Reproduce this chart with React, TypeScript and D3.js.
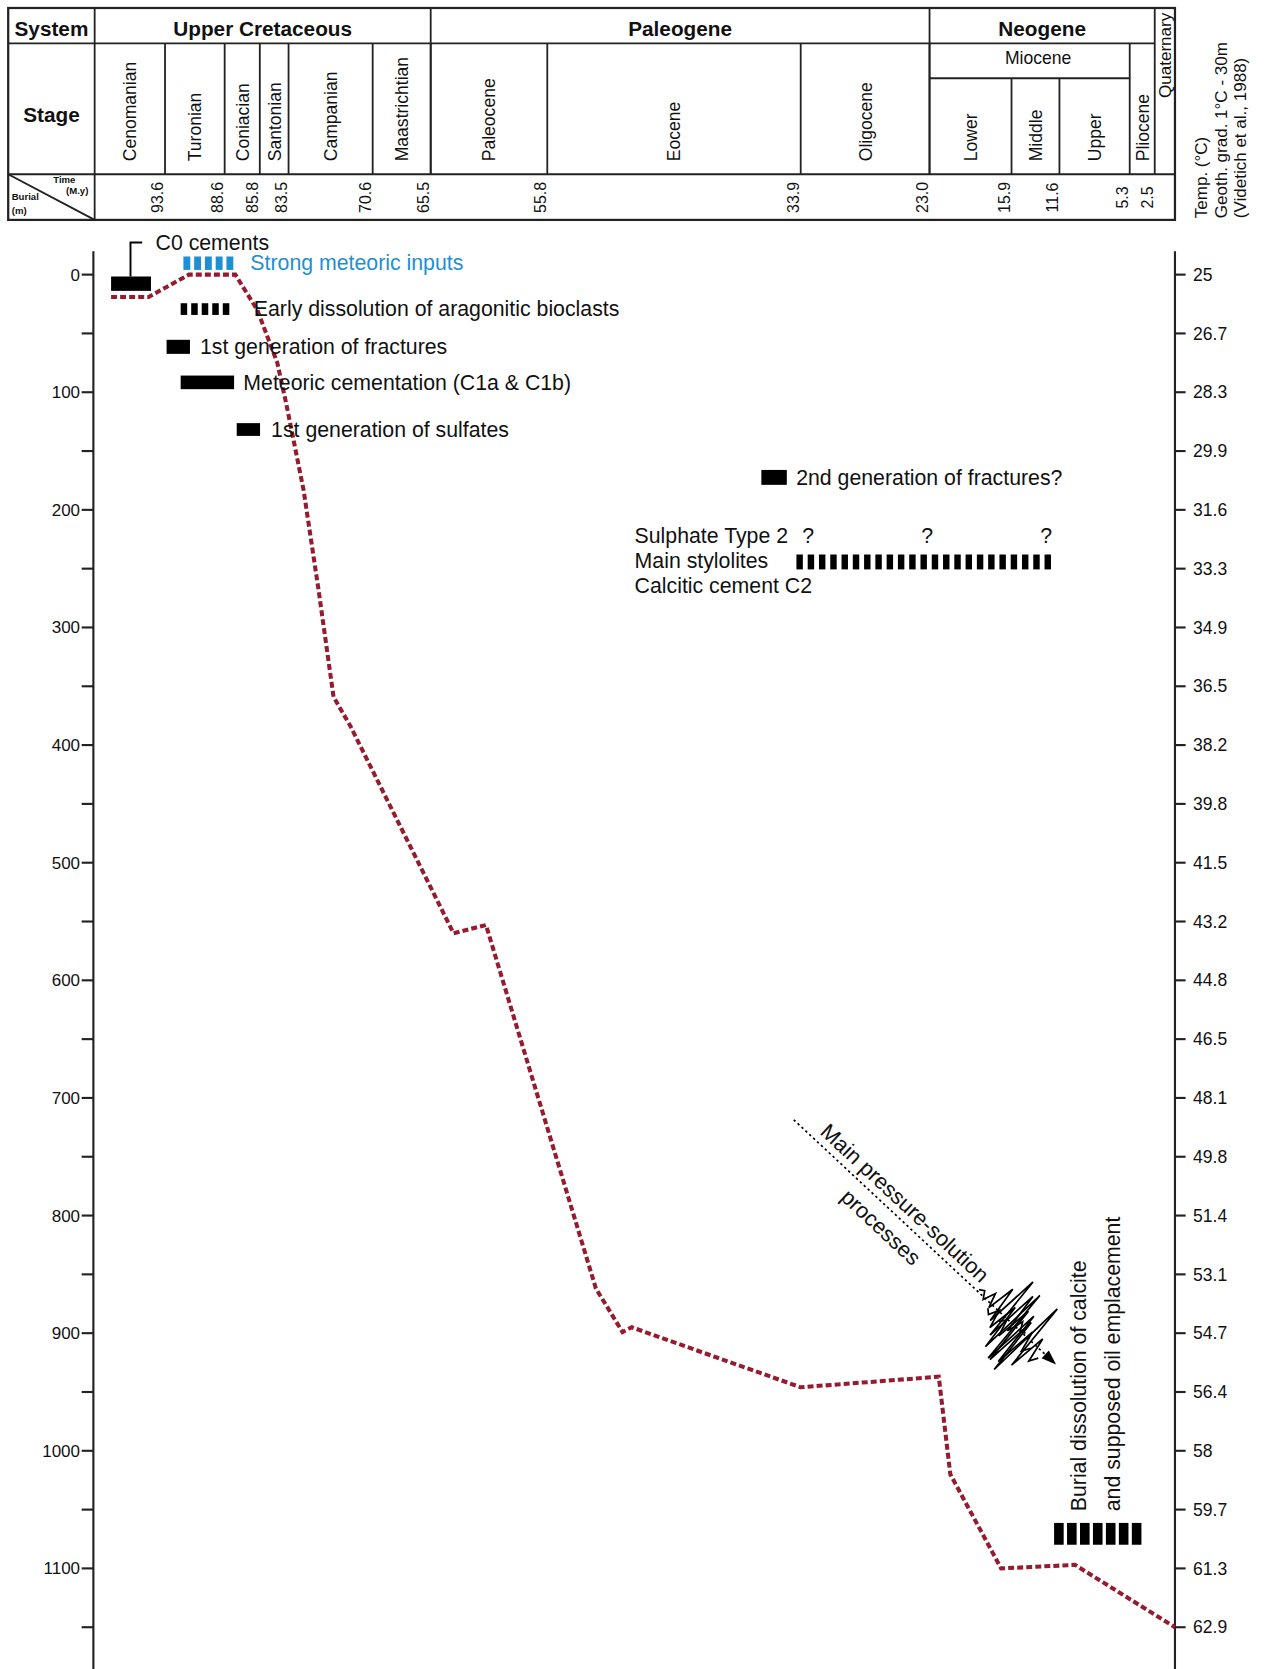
import React from "react";
import * as d3 from "d3";

const VB_W = 1189;
const VB_H = 1568;
const FONT = "'Liberation Sans', Arial, Helvetica, sans-serif";

// ---------------- data ----------------
const boundaryAges = [99.6, 93.6, 88.6, 85.8, 83.5, 70.6, 65.5, 55.8, 33.9, 23.0, 15.9, 11.6, 5.3, 2.5, 0];
const systemNames = ["Upper Cretaceous", "Paleogene", "Neogene"];
const systemFrom = [99.6, 65.5, 23.0];
const systemTo = [65.5, 23.0, 2.5];
const quaternaryName = "Quaternary";
const quaternaryRange = [2.5, 0];
const stageNames = ["Cenomanian", "Turonian", "Coniacian", "Santonian", "Campanian", "Maastrichtian", "Paleocene", "Eocene", "Oligocene", "Pliocene"];
const stageFrom = [99.6, 93.6, 88.6, 85.8, 83.5, 70.6, 65.5, 55.8, 33.9, 5.3];
const stageTo = [93.6, 88.6, 85.8, 83.5, 70.6, 65.5, 55.8, 33.9, 23.0, 2.5];
const mioceneName = "Miocene";
const mioceneRange = [23.0, 5.3];
const mioceneSubNames = ["Lower", "Middle", "Upper"];
const mioceneSubFrom = [23.0, 15.9, 11.6];
const mioceneSubTo = [15.9, 11.6, 5.3];
const timeTickAges = [93.6, 88.6, 85.8, 83.5, 70.6, 65.5, 55.8, 33.9, 23.0, 15.9, 11.6, 5.3, 2.5];

// burial curve (age in Ma, burial in m)
const burialAge = [98.2, 95.0, 91.6, 87.75, 86.0, 84.4, 83.7, 81.2, 78.9, 76.6, 74.0, 63.6, 60.9, 51.6, 49.3, 48.5, 33.9, 22.2, 21.2, 16.8, 10.2, 0];
const burialDepth = [19, 19, 0, 0, 30, 75, 109, 183, 268, 359, 384, 560, 553, 862, 899, 895, 946, 937, 1020, 1100, 1097, 1150];

// axes
const depthTicks = [0, 50, 100, 150, 200, 250, 300, 350, 400, 450, 500, 550, 600, 650, 700, 750, 800, 850, 900, 950, 1000, 1050, 1100, 1150];
const depthLabels = ["0", "", "100", "", "200", "", "300", "", "400", "", "500", "", "600", "", "700", "", "800", "", "900", "", "1000", "", "1100", ""];
const tempLabels = ["25", "26.7", "28.3", "29.9", "31.6", "33.3", "34.9", "36.5", "38.2", "39.8", "41.5", "43.2", "44.8", "46.5", "48.1", "49.8", "51.4", "53.1", "54.7", "56.4", "58", "59.7", "61.3", "62.9"];
const tempTitle = ["Temp. (°C)", "Geoth. grad. 1°C - 30m", "(Videtich et al., 1988)"];

// diagenetic events (age range in Ma, position in burial m)
const eventNames = [
  "C0 cements",
  "Strong meteoric inputs",
  "Early dissolution of aragonitic bioclasts",
  "1st generation of fractures",
  "Meteoric cementation (C1a & C1b)",
  "1st generation of sulfates",
  "2nd generation of fractures?",
  "Main stylolites",
  "Burial dissolution of calcite",
];
const eventFrom = [98.2, 92.06, 92.29, 93.47, 92.29, 87.64, 37.3, 34.27, 12.08];
const eventTo = [94.8, 87.91, 88.23, 91.51, 87.85, 85.78, 35.1, 12.36, 3.99];
const eventDepth = [7.7, -9.7, 29.3, 61.4, 91.6, 131.7, 172.4, 244.3, 1070.6];
const stylolitesSideLabels = ["Sulphate Type 2", "Main stylolites", "Calcitic cement C2"];
const questionAges = [33.27, 23.2, 12.8];
const burialTextLines = ["Burial dissolution of calcite", "and supposed oil emplacement"];

// pressure-solution arrow (age, burial)
const arrowAge = [34.5, 11.9];
const arrowDepth = [718.6, 926.7];
const pressureText = ["Main pressure-solution", "processes"];

// ---------------- layout / style ----------------
const boundaryPx = [88.9, 155, 211, 244, 271, 350, 404.5, 514, 752, 873, 950, 995, 1061, 1084.5, 1103.5];
const HX0 = 7.7;
const HY0 = 7.5;
const HY1 = 40.7;
const HY2 = 163.7;
const HY3 = 206.6;
const HMIO = 73.5;
const LINE = "#222";
const BLUE = "#1e8fd2";
const RED = "#961b2e";

// per-event drawing style: bar height, number of blocks (0 = solid), block fill ratio, colour, label gap
const eventStyle = [
  { h: 13.5, blocks: 0, fill: 1, color: "#000", gap: 0 },
  { h: 12.6, blocks: 5, fill: 0.64, color: BLUE, gap: 16 },
  { h: 11, blocks: 5, fill: 0.62, color: "#000", gap: 23 },
  { h: 13.2, blocks: 0, fill: 1, color: "#000", gap: 9.4 },
  { h: 12.8, blocks: 0, fill: 1, color: "#000", gap: 8.7 },
  { h: 12, blocks: 0, fill: 1, color: "#000", gap: 10.4 },
  { h: 14, blocks: 0, fill: 1, color: "#000", gap: 8.8 },
  { h: 14, blocks: 23, fill: 0.57, color: "#000", gap: 0 },
  { h: 20.5, blocks: 7, fill: 0.74, color: "#000", gap: 0 },
];

// stylolite symbol traces in the arrow frame: start offset along arrow, offset across, spike amplitudes
const styloliteTraces = [
  { u0: 236, v0: -2, amps: [0, -3, 4, -8, 6, -22, 14, -40, 24, -30, 10, -6, 2, 0] },
  { u0: 254, v0: 5, amps: [0, 4, -6, 12, -18, 28, -42, 34, -24, 30, -12, 8, 0] },
  { u0: 270, v0: 7, amps: [0, -6, 10, -26, 32, -20, 36, -46, 22, -16, 8, 0] },
];

function Bar({ x0, x1, yc, st }: any) {
  const L = x1 - x0;
  if (!st.blocks) {
    return <rect x={x0} y={yc - st.h / 2} width={L} height={st.h} fill={st.color} />;
  }
  const period = L / (st.blocks - 1 + st.fill);
  return (
    <g>
      {d3.range(st.blocks).map((i) => (
        <rect key={i} x={x0 + i * period} y={yc - st.h / 2} width={period * st.fill} height={st.h} fill={st.color} />
      ))}
    </g>
  );
}

export default function App() {
  const x = d3.scaleLinear().domain(boundaryAges).range(boundaryPx);
  const y = d3.scaleLinear().domain([0, 1100]).range([258, 1473.5]);
  const fmt = d3.format(".1f");

  const burialPts: [number, number][] = burialAge.map((a, i) => [a, burialDepth[i]]);
  const line = d3
    .line<[number, number]>()
    .x((d) => x(d[0]))
    .y((d) => y(d[1]));

  const axL = x(99.6) - 1.2;
  const axR = x(0);
  const axTop = 236;
  const axBot = VB_H;

  // arrow frame
  const ax0 = x(arrowAge[0]);
  const ay0 = y(arrowDepth[0]);
  const ax1 = x(arrowAge[1]);
  const ay1 = y(arrowDepth[1]);
  const ang = (Math.atan2(ay1 - ay0, ax1 - ax0) * 180) / Math.PI;
  const aLen = Math.hypot(ax1 - ax0, ay1 - ay0);

  const ev = (i: number) => ({
    x0: x(eventFrom[i]),
    x1: x(eventTo[i]),
    yc: y(eventDepth[i]),
    st: eventStyle[i],
  });

  return (
    <div style={{ position: "absolute", left: 0, top: 0, width: 1266, height: 1669, background: "#fff" }}>
      <svg width={1266} height={1669} viewBox={`0 0 ${VB_W} ${VB_H}`} preserveAspectRatio="none" style={{ display: "block" }} fontFamily={FONT}>
        <rect x={0} y={0} width={VB_W} height={VB_H} fill="#fff" />

        {/* ---------- header table ---------- */}
        <g stroke={LINE} strokeWidth={1.7} fill="none">
          <rect x={HX0} y={HY0} width={x(0) - HX0} height={HY3 - HY0} strokeWidth={2.1} />
          <line x1={HX0} x2={x(2.5)} y1={HY1} y2={HY1} />
          <line x1={HX0} x2={x(0)} y1={HY2} y2={HY2} />
          <line x1={x(99.6)} x2={x(99.6)} y1={HY0} y2={HY3} />
          {systemTo.map((a, i) => (
            <line key={"s" + i} x1={x(a)} x2={x(a)} y1={HY0} y2={HY2} />
          ))}
          {stageTo.slice(0, 9).map((a, i) => (
            <line key={"st" + i} x1={x(a)} x2={x(a)} y1={HY1} y2={HY2} />
          ))}
          <line x1={x(mioceneRange[1])} x2={x(mioceneRange[1])} y1={HY1} y2={HY2} />
          <line x1={x(mioceneRange[0])} x2={x(mioceneRange[1])} y1={HMIO} y2={HMIO} />
          {mioceneSubTo.slice(0, 2).map((a, i) => (
            <line key={"m" + i} x1={x(a)} x2={x(a)} y1={HMIO} y2={HY2} />
          ))}
          <line x1={HX0} y1={HY2} x2={x(99.6)} y2={HY3} strokeWidth={1.8} />
        </g>

        <g fill="#111" fontWeight="bold" fontSize={19.5} textAnchor="middle">
          <text x={(HX0 + x(99.6)) / 2} y={33.5}>System</text>
          <text x={(HX0 + x(99.6)) / 2} y={115}>Stage</text>
          {systemNames.map((n, i) => (
            <text key={n} x={(x(systemFrom[i]) + x(systemTo[i])) / 2} y={33.5}>
              {n}
            </text>
          ))}
        </g>
        <g fill="#111" fontSize={16.5}>
          {stageNames.map((n, i) => {
            const cx = (x(stageFrom[i]) + x(stageTo[i])) / 2 + 6;
            return (
              <text key={n} transform={`translate(${cx},151.5) rotate(-90)`}>
                {n}
              </text>
            );
          })}
          {mioceneSubNames.map((n, i) => {
            const cx = (x(mioceneSubFrom[i]) + x(mioceneSubTo[i])) / 2 + 6;
            return (
              <text key={n} transform={`translate(${cx},151.5) rotate(-90)`}>
                {n}
              </text>
            );
          })}
          <text transform={`translate(${(x(quaternaryRange[0]) + x(quaternaryRange[1])) / 2 + 6},92) rotate(-90)`} fontSize={16}>
            {quaternaryName}
          </text>
          <text x={(x(mioceneRange[0]) + x(mioceneRange[1])) / 2 + 8} y={60} textAnchor="middle" fontSize={16.5}>
            {mioceneName}
          </text>
        </g>
        <g fill="#111" fontSize={15} textAnchor="middle">
          {timeTickAges.map((a) => (
            <text key={a} transform={`translate(${x(a) - 1.5},185.5) rotate(-90)`}>
              {fmt(a)}
            </text>
          ))}
        </g>
        <g fill="#111" fontSize={9} fontWeight="bold">
          <text x={50} y={171.5}>Time</text>
          <text x={62} y={182.5}>(M.y)</text>
          <text x={11} y={188}>Burial</text>
          <text x={11} y={201}>(m)</text>
        </g>

        {/* temperature axis title */}
        <g fill="#111" fontSize={16}>
          {tempTitle.map((t, i) => (
            <text key={t} transform={`translate(${1134 + i * 18},205) rotate(-90)`}>
              {t}
            </text>
          ))}
        </g>

        {/* ---------- axes ---------- */}
        <g stroke={LINE} strokeWidth={2}>
          <line x1={axL} x2={axL} y1={axTop} y2={axBot} />
          <line x1={axR} x2={axR} y1={axTop} y2={axBot} />
          {depthTicks.map((d) => (
            <g key={d}>
              <line x1={axL - 11} x2={axL} y1={y(d)} y2={y(d)} />
              <line x1={axR} x2={axR + 10} y1={y(d)} y2={y(d)} />
            </g>
          ))}
        </g>
        <g fill="#111" fontSize={16}>
          {depthTicks.map((d, i) =>
            depthLabels[i] ? (
              <text key={"l" + d} x={axL - 12.5} y={y(d) + 5.6} textAnchor="end">
                {depthLabels[i]}
              </text>
            ) : null
          )}
          {depthTicks.map((d, i) => (
            <text key={"r" + d} x={axR + 17} y={y(d) + 5.8} fontSize={16.5}>
              {tempLabels[i]}
            </text>
          ))}
        </g>

        {/* ---------- burial curve ---------- */}
        <path d={line(burialPts) || ""} fill="none" stroke={RED} strokeWidth={3.8} strokeDasharray="5.6 2.9" />

        {/* ---------- events ---------- */}
        {(() => {
          const e = ev(0);
          const bx = (e.x0 + e.x1) / 2 - 0.5;
          const top = e.yc - e.st.h / 2;
          return (
            <g>
              <Bar {...e} />
              <path d={`M${bx},${top} V${top - 32} H${bx + 11}`} fill="none" stroke="#000" strokeWidth={1.8} />
              <text x={bx + 23.5} y={top - 24.5} fontSize={20} fill="#111">
                {eventNames[0]}
              </text>
            </g>
          );
        })()}
        {[1, 2, 3, 4, 5, 6].map((i) => {
          const e = ev(i);
          return (
            <g key={i}>
              <Bar {...e} />
              <text x={e.x1 + e.st.gap} y={e.yc + 6.8} fontSize={20} fill={i === 1 ? BLUE : "#111"}>
                {eventNames[i]}
              </text>
            </g>
          );
        })}
        {(() => {
          const e = ev(7);
          return (
            <g>
              <Bar {...e} />
              <g fontSize={20} fill="#111">
                <text x={596} y={e.yc - 18}>{stylolitesSideLabels[0]}</text>
                <text x={596} y={e.yc + 5.8}>{stylolitesSideLabels[1]}</text>
                <text x={596} y={e.yc + 29.2}>{stylolitesSideLabels[2]}</text>
                {questionAges.map((a) => (
                  <text key={a} x={x(a)} y={e.yc - 18} textAnchor="middle">
                    ?
                  </text>
                ))}
              </g>
            </g>
          );
        })()}
        {(() => {
          const e = ev(8);
          const top = e.yc - e.st.h / 2;
          return (
            <g>
              <Bar {...e} />
              <g fontSize={20} fill="#111">
                {burialTextLines.map((t, k) => (
                  <text key={t} transform={`translate(${e.x0 + 30 + k * 32},${top - 11}) rotate(-90)`}>
                    {t}
                  </text>
                ))}
              </g>
            </g>
          );
        })()}

        {/* ---------- pressure-solution arrow ---------- */}
        <g transform={`translate(${ax0},${ay0}) rotate(${ang})`}>
          <line x1={0} y1={0} x2={aLen - 12} y2={0} stroke="#000" strokeWidth={1.6} strokeDasharray="2.2 2.8" />
          <polygon points={`${aLen},0 ${aLen - 14},-5 ${aLen - 14},5`} fill="#000" />
          <text x={26} y={-7} fontSize={20.5} fill="#111">
            {pressureText[0]}
          </text>
          <text x={82} y={25} fontSize={20.5} fill="#111">
            {pressureText[1]}
          </text>
          {styloliteTraces.map((t, k) => (
            <path
              key={k}
              d={t.amps.map((a, j) => `${j === 0 ? "M" : "L"}${t.u0 + j * 4.6},${t.v0 + a}`).join(" ")}
              fill="none"
              stroke="#000"
              strokeWidth={1.6}
              strokeLinejoin="miter"
            />
          ))}
        </g>
      </svg>
    </div>
  );
}
